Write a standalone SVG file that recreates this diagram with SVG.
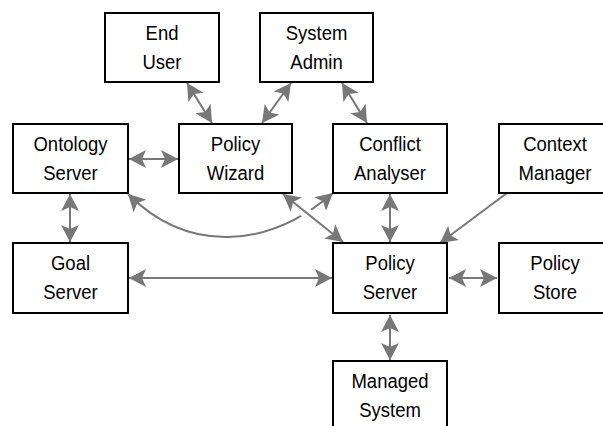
<svg xmlns="http://www.w3.org/2000/svg" width="603" height="426" viewBox="0 0 603 426">
<defs>
<marker id="ah" markerUnits="userSpaceOnUse" markerWidth="17" markerHeight="18" refX="17" refY="9" orient="auto-start-reverse" viewBox="0 0 17 18">
<path d="M0,0 L17,9 L0,18 L4,9 z" fill="#777777"/>
</marker>
</defs>
<style>
.box{fill:#ffffff;stroke:#000000;stroke-width:2}
.lbl{font-family:"Liberation Sans",Arial,Helvetica,sans-serif;font-size:18.5px;fill:#000000;text-anchor:middle}
.c{fill:none;stroke:#777777;stroke-width:2}
.cb{marker-start:url(#ah);marker-end:url(#ah)}
.ce{marker-end:url(#ah)}
</style>
<rect width="603" height="426" fill="#ffffff"/>
<g id="connectors">
<line class="c cb" x1="187" y1="83" x2="212" y2="123"/>
<line class="c cb" x1="291" y1="83" x2="262" y2="123"/>
<line class="c cb" x1="342" y1="83" x2="367" y2="123"/>
<line class="c cb" x1="129" y1="159" x2="178" y2="159"/>
<line class="c cb" x1="70" y1="194" x2="70" y2="242"/>
<line class="c cb" x1="129" y1="278" x2="332" y2="278"/>
<line class="c cb" x1="390" y1="194" x2="390" y2="242"/>
<line class="c ce" x1="507" y1="193" x2="440" y2="243"/>
<path class="c cb" d="M128,194 C188,254 268,249 333,193"/>
<line x1="299" y1="207.2" x2="313" y2="218.4" stroke="#ffffff" stroke-width="11"/>
<line class="c cb" x1="283" y1="194" x2="343" y2="242"/>
<line class="c cb" x1="449" y1="278" x2="497" y2="278"/>
<line class="c cb" x1="390" y1="315" x2="390" y2="360"/>
</g>
<g id="end-user">
<rect class="box" x="105" y="13" width="114" height="69"/>
<text class="lbl" transform="translate(162,13) scale(1,1.1)"><tspan x="0" y="24.5">End</tspan><tspan x="0" y="50.5">User</tspan></text>
</g>
<g id="system-admin">
<rect class="box" x="260" y="13" width="113" height="69"/>
<text class="lbl" transform="translate(316.5,13) scale(1,1.1)"><tspan x="0" y="24.5">System</tspan><tspan x="0" y="50.5">Admin</tspan></text>
</g>
<g id="ontology-server">
<rect class="box" x="13" y="124" width="115" height="69"/>
<text class="lbl" transform="translate(70.5,124) scale(1,1.1)"><tspan x="0" y="24.5">Ontology</tspan><tspan x="0" y="50.5">Server</tspan></text>
</g>
<g id="policy-wizard">
<rect class="box" x="179" y="124" width="113" height="69"/>
<text class="lbl" transform="translate(235.5,124) scale(1,1.1)"><tspan x="0" y="24.5">Policy</tspan><tspan x="0" y="50.5">Wizard</tspan></text>
</g>
<g id="conflict-analyser">
<rect class="box" x="333" y="124" width="114" height="69"/>
<text class="lbl" transform="translate(390,124) scale(1,1.1)"><tspan x="0" y="24.5">Conflict</tspan><tspan x="0" y="50.5">Analyser</tspan></text>
</g>
<g id="context-manager">
<rect class="box" x="499" y="124" width="114" height="69"/>
<text class="lbl" transform="translate(555,124) scale(1,1.1)"><tspan x="0" y="24.5">Context</tspan><tspan x="0" y="50.5">Manager</tspan></text>
</g>
<g id="goal-server">
<rect class="box" x="13" y="243" width="115" height="70"/>
<text class="lbl" transform="translate(70.5,243) scale(1,1.1)"><tspan x="0" y="24.5">Goal</tspan><tspan x="0" y="50.5">Server</tspan></text>
</g>
<g id="policy-server">
<rect class="box" x="333" y="243" width="114" height="70"/>
<text class="lbl" transform="translate(390,243) scale(1,1.1)"><tspan x="0" y="24.5">Policy</tspan><tspan x="0" y="50.5">Server</tspan></text>
</g>
<g id="policy-store">
<rect class="box" x="499" y="243" width="114" height="70"/>
<text class="lbl" transform="translate(555,243) scale(1,1.1)"><tspan x="0" y="24.5">Policy</tspan><tspan x="0" y="50.5">Store</tspan></text>
</g>
<g id="managed-system">
<rect class="box" x="333" y="361" width="114" height="70"/>
<text class="lbl" transform="translate(390,361) scale(1,1.1)"><tspan x="0" y="24.5">Managed</tspan><tspan x="0" y="50.5">System</tspan></text>
</g>
</svg>
